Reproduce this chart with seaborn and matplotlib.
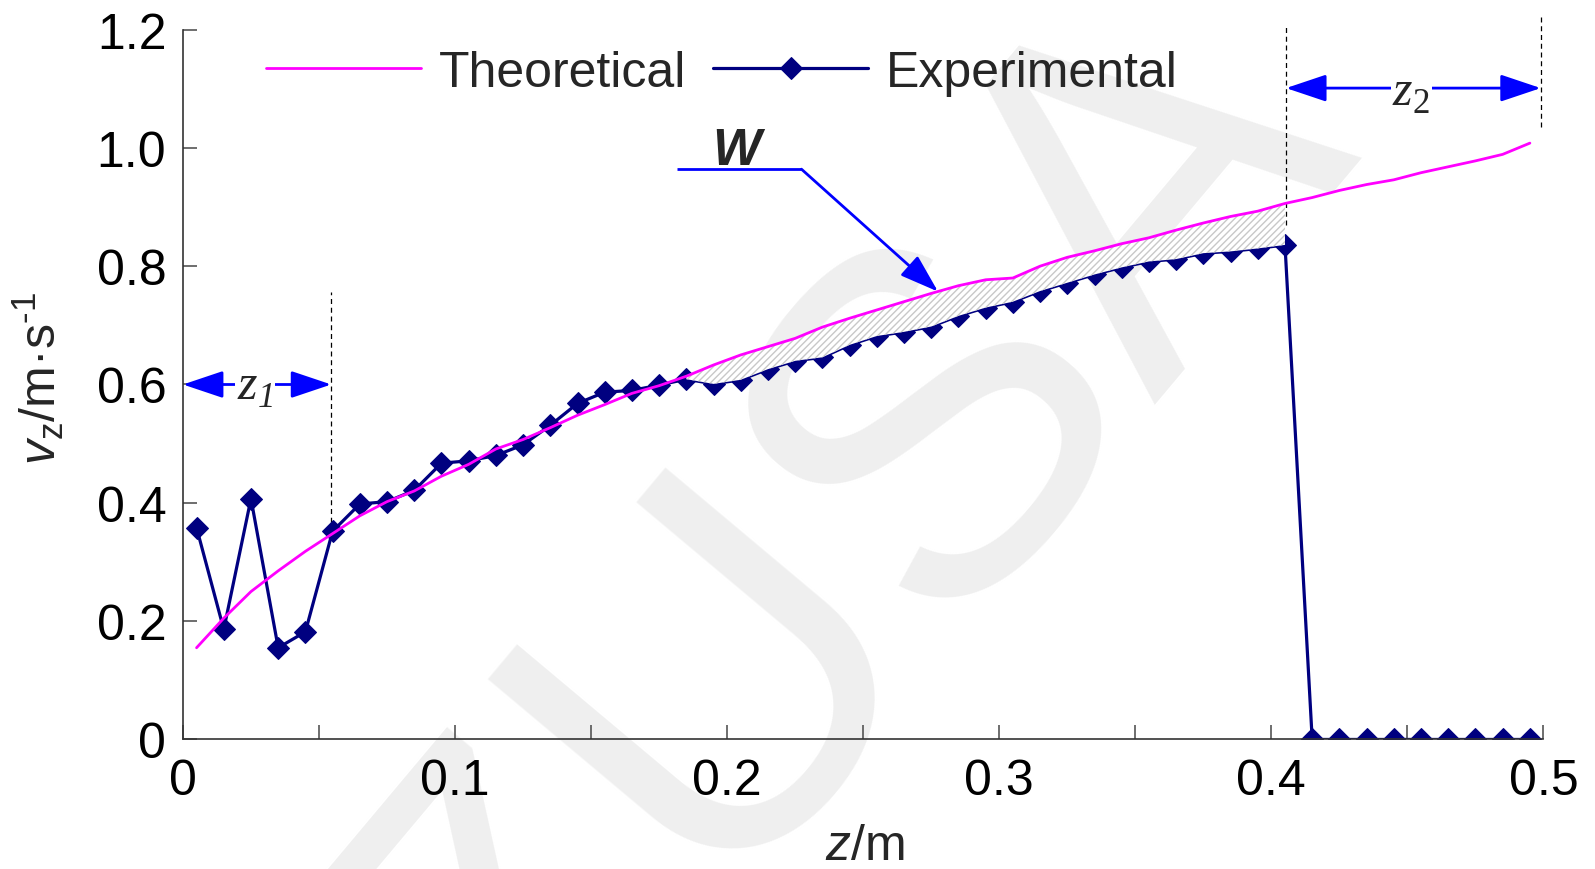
import matplotlib
matplotlib.use("Agg")
import matplotlib.pyplot as plt
import numpy as np
import pandas as pd
import seaborn as sns
from matplotlib.ticker import FixedLocator, MultipleLocator

# ---- data ----
z_pos = [0.005, 0.015, 0.025, 0.035, 0.045, 0.055, 0.065, 0.075, 0.085, 0.095,
         0.105, 0.115, 0.125, 0.135, 0.145, 0.155, 0.165, 0.175, 0.185, 0.195,
         0.205, 0.215, 0.225, 0.235, 0.245, 0.255, 0.265, 0.275, 0.285, 0.295,
         0.305, 0.315, 0.325, 0.335, 0.345, 0.355, 0.365, 0.375, 0.385, 0.395,
         0.405, 0.415, 0.425, 0.435, 0.445, 0.455, 0.465, 0.475, 0.485, 0.495]

theoretical = [0.155, 0.205, 0.250, 0.285, 0.318, 0.348, 0.378, 0.402, 0.420, 0.445,
               0.465, 0.491, 0.507, 0.527, 0.548, 0.566, 0.585, 0.598, 0.614, 0.633,
               0.650, 0.664, 0.678, 0.697, 0.712, 0.726, 0.740, 0.754, 0.767, 0.777,
               0.780, 0.800, 0.815, 0.826, 0.838, 0.848, 0.861, 0.873, 0.884, 0.893,
               0.906, 0.916, 0.928, 0.938, 0.946, 0.958, 0.968, 0.978, 0.989, 1.008]

experimental = [0.358, 0.186, 0.407, 0.155, 0.182, 0.352, 0.398, 0.402, 0.421, 0.467,
                0.471, 0.480, 0.498, 0.531, 0.568, 0.587, 0.590, 0.599, 0.609, 0.601,
                0.608, 0.626, 0.640, 0.646, 0.667, 0.682, 0.689, 0.698, 0.716, 0.730,
                0.740, 0.758, 0.772, 0.786, 0.798, 0.808, 0.812, 0.822, 0.825, 0.830,
                0.836, 0.0, 0.0, 0.0, 0.0, 0.0, 0.0, 0.0, 0.0, 0.0]

x_ticks = [0.0, 0.1, 0.2, 0.3, 0.4, 0.5]
x_tick_labels = ["0", "0.1", "0.2", "0.3", "0.4", "0.5"]
y_ticks = [0.0, 0.2, 0.4, 0.6, 0.8, 1.0, 1.2]
y_tick_labels = ["0", "0.2", "0.4", "0.6", "0.8", "1.0", "1.2"]

shade_start, shade_end = 18, 41   # indices of the hatched W region

df = pd.DataFrame({"z": z_pos, "theo": theoretical, "exp": experimental})

# ---- style ----
sns.set_theme(style="white")
plt.rcParams["font.family"] = ["Liberation Sans", "DejaVu Sans"]
plt.rcParams["mathtext.fontset"] = "custom"
plt.rcParams["mathtext.rm"] = "Liberation Sans"
plt.rcParams["mathtext.it"] = "Liberation Sans:italic"
plt.rcParams["mathtext.cal"] = "Liberation Serif:italic"
plt.rcParams["mathtext.sf"] = "Liberation Serif"
plt.rcParams["hatch.linewidth"] = 1.0

fig = plt.figure(figsize=(15.95, 8.7), dpi=100)
ax = fig.add_axes([0.1147, 0.1489, 0.853, 0.816])

# watermark
ax.text(0.530, 0.356, "ZUSA", transform=fig.transFigure, fontsize=350,
        color="#efefef", rotation=50, ha="center", va="center",
        rotation_mode="anchor", zorder=0, clip_on=False)

navy = "#000080"
sns.lineplot(data=df, x="z", y="exp", ax=ax, color=navy, lw=2.3, marker="D",
             markersize=11, markeredgecolor=navy, markerfacecolor=navy,
             label="Experimental", zorder=2)
ax.fill_between(df["z"][shade_start:shade_end], df["exp"][shade_start:shade_end],
                df["theo"][shade_start:shade_end], facecolor="white",
                edgecolor="#c8c8c8", hatch="/////", linewidth=0, zorder=3)
sns.lineplot(data=df, x="z", y="theo", ax=ax, color="#FF00FF", lw=2.0,
             label="Theoretical", zorder=4)

ax.set_xlim(0, 0.5)
ax.set_ylim(0, 1.2)
ax.xaxis.set_major_locator(FixedLocator(x_ticks))
ax.xaxis.set_minor_locator(MultipleLocator(0.05))
ax.set_xticklabels(x_tick_labels)
ax.yaxis.set_major_locator(FixedLocator(y_ticks))
ax.set_yticklabels(y_tick_labels)
ax.tick_params(axis="both", which="both", direction="in", length=10, width=1.2,
               color="#555555", labelsize=36, labelcolor="black")
ax.tick_params(axis="x", which="both", pad=13, bottom=True)
ax.tick_params(axis="y", which="both", pad=12, left=True)
for s in ["top", "right"]:
    ax.spines[s].set_visible(False)
for s in ["left", "bottom"]:
    ax.spines[s].set_color("#333333")
    ax.spines[s].set_linewidth(1.2)

ax.set_xlabel(r"$\mathit{z}$/m", fontsize=36)
ax.xaxis.set_label_coords(0.501, -0.117)
ax.set_ylabel("$\\mathit{v}_{\\mathrm{z}}$/m·s$^{\\mathrm{\u20101}}$", fontsize=36)
ax.yaxis.set_label_coords(-0.086, 0.51)

# legend
h, l = ax.get_legend_handles_labels()
order = [l.index("Theoretical"), l.index("Experimental")]
ax.legend([h[i] for i in order], [l[i] for i in order], loc="center left",
          bbox_to_anchor=(0.061, 0.939), ncol=2, frameon=False, fontsize=36,
          handlelength=3.1, handletextpad=0.35, columnspacing=0.55,
          borderpad=0, borderaxespad=0)

# dashed guide lines
dash = dict(color="black", lw=0.9, ls=(0, (4, 3)), zorder=1, clip_on=False)
ax.plot([0.0545, 0.0545], [0.352, 0.757], **dash)
ax.plot([0.4054, 0.4054], [0.87, 1.206], **dash)
ax.plot([0.499, 0.499], [1.035, 1.225], **dash)

blue = "#0000FF"
dbl = dict(arrowstyle="<|-|>,head_length=1.25,head_width=0.42", mutation_scale=20,
           color=blue, lw=2, shrinkA=0, shrinkB=0)
ax.annotate("", xy=(0.0, 0.6), xytext=(0.0545, 0.6), arrowprops=dbl,
            annotation_clip=False, zorder=5)
ax.text(0.0265, 0.597, r"$\mathcal{z}_{\mathcal{1}}$", fontsize=36, ha="center",
        va="center", zorder=6, bbox=dict(fc="white", ec="none", pad=1))
ax.annotate("", xy=(0.4054, 1.101), xytext=(0.499, 1.101), arrowprops=dbl,
            annotation_clip=False, zorder=5)
ax.text(0.4514, 1.095, r"$\mathcal{z}_{\mathsf{2}}$", fontsize=36, ha="center",
        va="center", zorder=6, bbox=dict(fc="white", ec="none", pad=1))

# W label with leader
ax.text(0.2034, 0.995, "W", fontsize=37, fontweight="bold", fontstyle="italic",
        ha="center", va="center", zorder=6)
ax.plot([0.1814, 0.2273], [0.964, 0.964], color=blue, lw=2, zorder=5,
        solid_capstyle="butt")
ax.annotate("", xy=(0.2775, 0.757), xytext=(0.2273, 0.964),
            arrowprops=dict(arrowstyle="-|>,head_length=1.2,head_width=0.4",
                            mutation_scale=20, color=blue, lw=2,
                            shrinkA=0, shrinkB=0), zorder=5)

fig.savefig("out.png", dpi=100)
